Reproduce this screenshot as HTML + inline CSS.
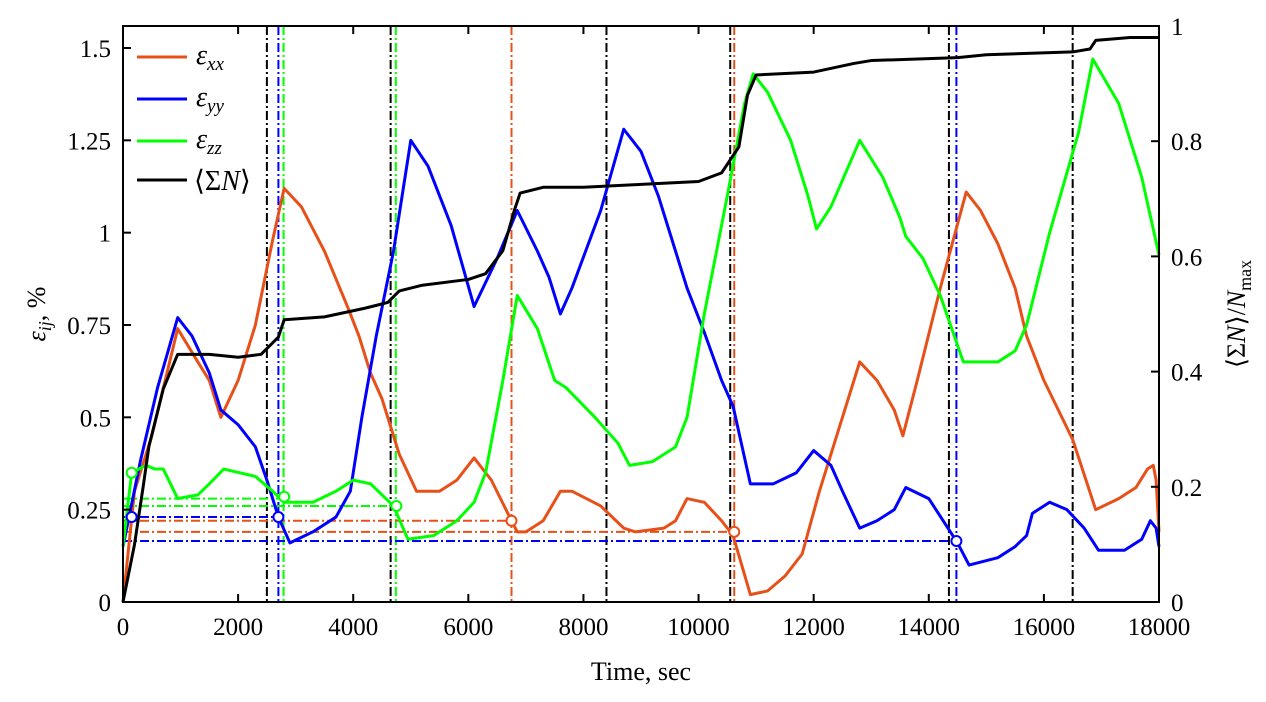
<!DOCTYPE html>
<html><head><meta charset="utf-8"><style>
body{margin:0;background:#fff}
svg{display:block;font-family:"Liberation Serif",serif}
</style></head><body>
<svg id="c" width="1266" height="702"></svg>
<script>
const tLabels=["0","2000","4000","6000","8000","10000","12000","14000","16000","18000"];
const tTicks=[0,2000,4000,6000,8000,10000,12000,14000,16000,18000];
const yTicks=[0,0.25,0.5,0.75,1,1.25,1.5];
const yLabels=["0","0.25","0.5","0.75","1","1.25","1.5"];
const rTicks=[0,0.2,0.4,0.6,0.8,1];
const rLabels=["0","0.2","0.4","0.6","0.8","1"];
const exx=[[0,0],[200,0.3],[500,0.45],[950,0.74],[1300,0.65],[1500,0.6],[1700,0.5],[2000,0.6],[2300,0.75],[2600,0.98],[2800,1.12],[3100,1.07],[3500,0.95],[3900,0.8],[4100,0.72],[4300,0.62],[4500,0.55],[4800,0.4],[5100,0.3],[5500,0.3],[5800,0.33],[6100,0.39],[6400,0.33],[6750,0.22],[6850,0.19],[7000,0.19],[7300,0.22],[7600,0.3],[7800,0.3],[8300,0.26],[8700,0.2],[8900,0.19],[9400,0.2],[9600,0.22],[9800,0.28],[10100,0.27],[10400,0.22],[10600,0.18],[10750,0.1],[10900,0.02],[11200,0.03],[11500,0.07],[11800,0.13],[12100,0.3],[12400,0.45],[12800,0.65],[13100,0.6],[13400,0.52],[13550,0.45],[13800,0.6],[14200,0.85],[14650,1.11],[14900,1.06],[15200,0.97],[15500,0.85],[15700,0.72],[16000,0.6],[16500,0.44],[16900,0.25],[17300,0.28],[17600,0.31],[17800,0.36],[17900,0.37],[17950,0.33],[18000,0.19]];
const eyy=[[0,0.15],[300,0.38],[600,0.58],[950,0.77],[1200,0.72],[1500,0.62],[1700,0.52],[2000,0.48],[2300,0.42],[2500,0.33],[2700,0.23],[2900,0.16],[3300,0.19],[3700,0.23],[3950,0.3],[4150,0.5],[4400,0.72],[4700,0.95],[5000,1.25],[5300,1.18],[5700,1.02],[6100,0.8],[6500,0.93],[6850,1.06],[7200,0.95],[7400,0.88],[7600,0.78],[7800,0.85],[8300,1.06],[8700,1.28],[9000,1.22],[9300,1.1],[9600,0.95],[9800,0.85],[10100,0.73],[10400,0.6],[10600,0.53],[10900,0.32],[11300,0.32],[11700,0.35],[12000,0.41],[12300,0.37],[12500,0.3],[12800,0.2],[13100,0.22],[13400,0.25],[13600,0.31],[14000,0.28],[14500,0.16],[14700,0.1],[15200,0.12],[15500,0.15],[15700,0.18],[15800,0.24],[16100,0.27],[16400,0.25],[16700,0.2],[16950,0.14],[17400,0.14],[17700,0.17],[17850,0.22],[17950,0.2],[18000,0.15]];
const ezz=[[0,0.15],[150,0.35],[400,0.37],[550,0.36],[700,0.36],[950,0.28],[1300,0.29],[1500,0.32],[1750,0.36],[2300,0.34],[2600,0.3],[2800,0.27],[3300,0.27],[3700,0.3],[4000,0.33],[4300,0.32],[4700,0.26],[4950,0.17],[5400,0.18],[5800,0.22],[6100,0.27],[6300,0.35],[6600,0.6],[6850,0.83],[7200,0.74],[7500,0.6],[7700,0.58],[8200,0.5],[8600,0.43],[8800,0.37],[9200,0.38],[9600,0.42],[9800,0.5],[10100,0.78],[10500,1.1],[10800,1.35],[10950,1.43],[11200,1.38],[11600,1.25],[11900,1.1],[12050,1.01],[12300,1.07],[12800,1.25],[13200,1.15],[13500,1.04],[13600,0.99],[13900,0.93],[14200,0.83],[14600,0.65],[15200,0.65],[15500,0.68],[15700,0.75],[16100,1.0],[16600,1.27],[16850,1.47],[17300,1.35],[17700,1.15],[18000,0.94]];
const sumN=[[0,0],[200,0.1],[350,0.2],[450,0.27],[700,0.37],[950,0.43],[1500,0.43],[2000,0.425],[2400,0.43],[2700,0.46],[2800,0.49],[3500,0.495],[4200,0.51],[4600,0.52],[4800,0.54],[5200,0.55],[6000,0.56],[6300,0.57],[6600,0.61],[6800,0.68],[6900,0.71],[7300,0.72],[8000,0.72],[9000,0.725],[10000,0.73],[10400,0.745],[10700,0.79],[10850,0.88],[11000,0.915],[12000,0.92],[12700,0.935],[13000,0.94],[14500,0.945],[15000,0.95],[16500,0.955],[16800,0.96],[16900,0.975],[17500,0.98],[18000,0.98]];
const vLines=[[2500,"#000"],[4650,"#000"],[8400,"#000"],[10550,"#000"],[14350,"#000"],[16500,"#000"],[2700,"#0000ff"],[14480,"#0000ff"],[2790,"#00ff00"],[4740,"#00ff00"],[6750,"#e8501a"],[10620,"#e8501a"]];
const hLines=[[0.28,2800,"#00ff00"],[0.26,4750,"#00ff00"],[0.23,2700,"#0000ff"],[0.22,6750,"#e8501a"],[0.19,10620,"#e8501a"],[0.165,14480,"#0000ff"]];
const circles=[[150,0.35,"#00ff00"],[2800,0.285,"#00ff00"],[4750,0.26,"#00ff00"],[150,0.23,"#0000ff"],[2700,0.23,"#0000ff"],[14480,0.165,"#0000ff"],[6750,0.22,"#e8501a"],[10620,0.19,"#e8501a"]];
const L=123,R=1159,T=26,B=602;
const X=t=>L+(t/18000)*(R-L);
const Y=v=>B-(v/1.5)*(B-48);
const YR=v=>B-v*(B-T);
const svg=document.getElementById('c');
const NS="http://www.w3.org/2000/svg";
function mk(tag,a){const e=document.createElementNS(NS,tag);for(const k in a)e.setAttribute(k,a[k]);svg.appendChild(e);return e;}
vLines.forEach(v=>{const e=mk('line',{x1:X(v[0]),x2:X(v[0]),y1:T,y2:B,stroke:v[1],'stroke-width':2,'stroke-dasharray':'9,3,2,3'});

});
hLines.forEach(h=>{const e=mk('line',{x1:L,x2:X(h[1]),y1:Y(h[0]),y2:Y(h[0]),stroke:h[2],'stroke-width':2,'stroke-dasharray':'9,3,2,3'});

});
function line(d,yf,col,name){const e=mk('polyline',{points:d.map(p=>X(p[0])+','+yf(p[1])).join(' '),fill:'none',stroke:col,'stroke-width':3,'stroke-linejoin':'round'});

}
line(exx,Y,'#e8501a','series-exx');
line(eyy,Y,'#0000ff','series-eyy');
line(ezz,Y,'#00ff00','series-ezz');
line(sumN,YR,'#000','series-sum-n');
circles.forEach(c=>{const e=mk('circle',{cx:X(c[0]),cy:Y(c[1]),r:5,fill:'#fff',stroke:c[2],'stroke-width':2});

});
const fr=mk('rect',{x:L,y:T,width:R-L,height:B-T,fill:'none',stroke:'#000','stroke-width':2});


tTicks.forEach((t,i)=>{mk('line',{x1:X(t),x2:X(t),y1:B,y2:B-8,stroke:'#000','stroke-width':2});mk('line',{x1:X(t),x2:X(t),y1:T,y2:T+8,stroke:'#000','stroke-width':2});
const e=mk('text',{x:X(t),y:B+33,'font-size':25,'text-anchor':'middle'});e.textContent=tLabels[i];

});
yTicks.forEach((v,i)=>{mk('line',{x1:L,x2:L+8,y1:Y(v),y2:Y(v),stroke:'#000','stroke-width':2});
const e=mk('text',{x:L-12,y:Y(v)+9,'font-size':25,'text-anchor':'end'});e.textContent=yLabels[i];

});
rTicks.forEach((v,i)=>{mk('line',{x1:R,x2:R-8,y1:YR(v),y2:YR(v),stroke:'#000','stroke-width':2});
const e=mk('text',{x:R+12,y:YR(v)+9,'font-size':25,'text-anchor':'start'});e.textContent=rLabels[i];

});
</script>
<svg width="1266" height="702" style="position:absolute;left:0;top:0;font-family:'Liberation Serif',serif">
<text x="641" y="680" font-size="26" text-anchor="middle">Time, sec</text>
<text transform="translate(45,314) rotate(-90)" font-size="26" text-anchor="middle"><tspan font-style="italic">ε</tspan><tspan font-style="italic" font-size="18" dy="6">ij</tspan><tspan dy="-6">, %</tspan></text>
<text transform="translate(1245,314) rotate(-90)" font-size="26" text-anchor="middle">⟨Σ<tspan font-style="italic">N</tspan>⟩/<tspan font-style="italic">N</tspan><tspan font-size="18" dy="6">max</tspan></text>
<g>
<line x1="137" x2="187" y1="57" y2="57" stroke="#e8501a" stroke-width="3"/>
<text x="196" y="64" font-size="28" font-style="italic">ε<tspan font-size="19" dy="6">xx</tspan></text>
<line x1="137" x2="187" y1="99" y2="99" stroke="#0000ff" stroke-width="3"/>
<text x="196" y="106" font-size="28" font-style="italic">ε<tspan font-size="19" dy="6">yy</tspan></text>
<line x1="137" x2="187" y1="141" y2="141" stroke="#00ff00" stroke-width="3"/>
<text x="196" y="148" font-size="28" font-style="italic">ε<tspan font-size="19" dy="6">zz</tspan></text>
<line x1="137" x2="187" y1="180" y2="180" stroke="#000" stroke-width="3"/>
<text x="194" y="190" font-size="28">⟨Σ<tspan font-style="italic">N</tspan>⟩</text>
</g>
</svg>
</body></html>
